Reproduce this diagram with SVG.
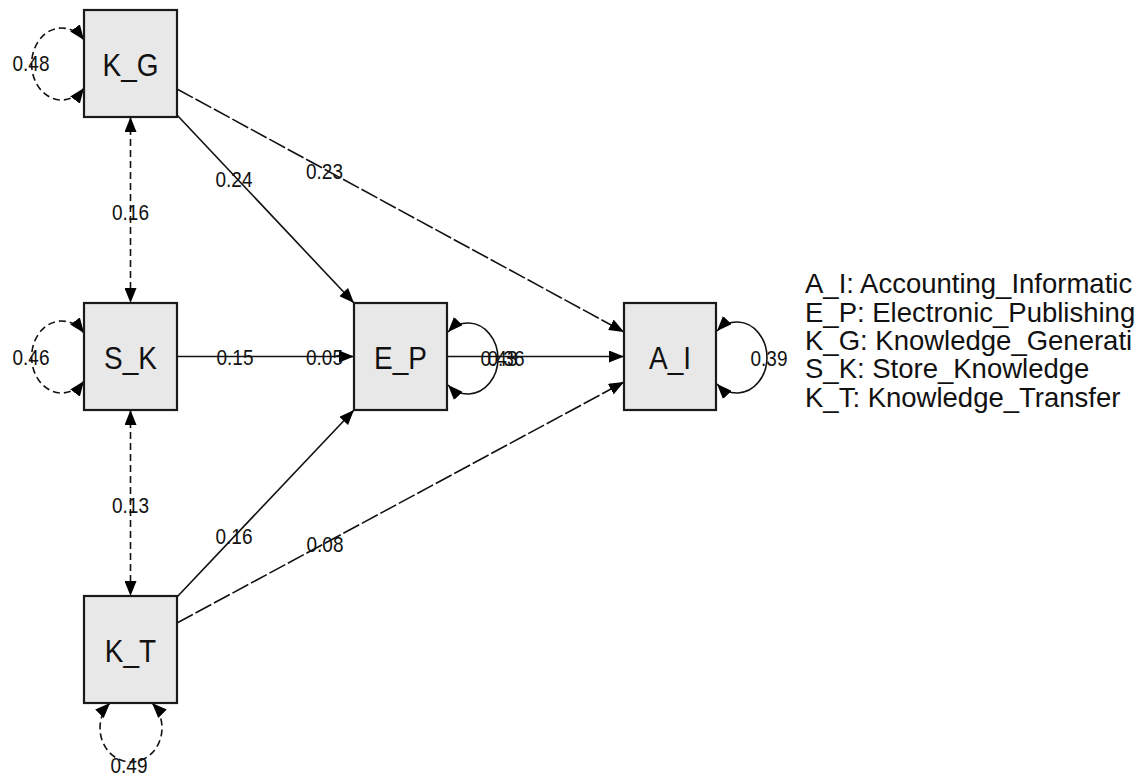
<svg xmlns="http://www.w3.org/2000/svg" width="1135" height="775" viewBox="0 0 1135 775">
<style>
.node rect{fill:#e8e8e8;stroke:#1a1a1a;stroke-width:2.2}
.nl{font-family:"Liberation Sans",Arial,sans-serif;font-size:28px;fill:#111;text-anchor:middle}
.el{font-family:"Liberation Sans",Arial,sans-serif;font-size:19px;fill:#111;text-anchor:middle}
.lg{font-family:"Liberation Sans",Arial,sans-serif;font-size:27.5px;fill:#111}
.e{fill:none;stroke:#111;stroke-width:1.6}
.d{stroke-dasharray:7,4}
.ld{stroke-dasharray:18,3}
</style>
<defs>
<marker id="ah" markerUnits="userSpaceOnUse" markerWidth="15" markerHeight="12" refX="15" refY="6" orient="auto-start-reverse" viewBox="0 0 15 12">
<path d="M0,0 L15,6 L0,12 z" fill="#000"/>
</marker>
</defs>
<g id="connectors">
<path class="e d" d="M130.5,117 L130.5,303" marker-start="url(#ah)" marker-end="url(#ah)"/>
<path class="e d" d="M130.5,410 L130.5,596" marker-start="url(#ah)" marker-end="url(#ah)"/>
<path class="e d" d="M84,40 A30,36 0 1 0 84,88" marker-start="url(#ah)" marker-end="url(#ah)"/>
<path class="e d" d="M84,333 A30,36 0 1 0 84,381" marker-start="url(#ah)" marker-end="url(#ah)"/>
<path class="e d" d="M110,703 A31,34 0 1 0 152,703" marker-start="url(#ah)" marker-end="url(#ah)"/>
<path class="e" d="M448,332 A30,35.5 0 1 1 448,385" marker-start="url(#ah)" marker-end="url(#ah)"/>
<path class="e" d="M717,331 A30,35.5 0 1 1 717,384" marker-start="url(#ah)" marker-end="url(#ah)"/>
<path class="e" d="M177,115 L354,303" marker-end="url(#ah)"/>
<path class="e ld" d="M177,89 L624,332" marker-end="url(#ah)"/>
<path class="e" d="M177,356.5 L354,356.5" marker-end="url(#ah)"/>
<path class="e" d="M447,356.5 L624,356.5" marker-end="url(#ah)"/>
<path class="e" d="M177,597 L354,410" marker-end="url(#ah)"/>
<path class="e ld" d="M177,623 L624,382" marker-end="url(#ah)"/>
</g>
<g id="edge-labels">
<text class="el" transform="translate(31,71) scale(1,1.12)">0.48</text>
<text class="el" transform="translate(31,365) scale(1,1.12)">0.46</text>
<text class="el" transform="translate(129,773) scale(1,1.12)">0.49</text>
<text class="el" transform="translate(130.5,220) scale(1,1.12)">0.16</text>
<text class="el" transform="translate(130.5,513) scale(1,1.12)">0.13</text>
<text class="el" transform="translate(234,187) scale(1,1.12)">0.24</text>
<text class="el" transform="translate(324.5,179) scale(1,1.12)">0.23</text>
<text class="el" transform="translate(235,365) scale(1,1.12)">0.15</text>
<text class="el" transform="translate(324.5,365) scale(1,1.12)">0.05</text>
<text class="el" transform="translate(499,366) scale(1,1.12)">0.43</text>
<text class="el" transform="translate(506,366) scale(1,1.12)">0.36</text>
<text class="el" transform="translate(769,366) scale(1,1.12)">0.39</text>
<text class="el" transform="translate(234,544) scale(1,1.12)">0.16</text>
<text class="el" transform="translate(325,552) scale(1,1.12)">0.08</text>
</g>
<g id="K_G" class="node"><rect x="84" y="10" width="93" height="107"/><text class="nl" transform="translate(130.5,76) scale(1,1.15)">K_G</text></g>
<g id="S_K" class="node"><rect x="84" y="303" width="93" height="107"/><text class="nl" transform="translate(130.5,369) scale(1,1.15)">S_K</text></g>
<g id="K_T" class="node"><rect x="84" y="596" width="93" height="107"/><text class="nl" transform="translate(130.5,662) scale(1,1.15)">K_T</text></g>
<g id="E_P" class="node"><rect x="354" y="303" width="93" height="107"/><text class="nl" transform="translate(400.5,369) scale(1,1.15)">E_P</text></g>
<g id="A_I" class="node"><rect x="624" y="303" width="92" height="107"/><text class="nl" transform="translate(670,369) scale(1,1.15)">A_I</text></g>
<g id="legend">
<text class="lg" x="805" y="293">A_I: Accounting_Informatic</text>
<text class="lg" x="805" y="322">E_P: Electronic_Publishing</text>
<text class="lg" x="805" y="350">K_G: Knowledge_Generati</text>
<text class="lg" x="805" y="378">S_K: Store_Knowledge</text>
<text class="lg" x="805" y="407">K_T: Knowledge_Transfer</text>
</g>
</svg>
